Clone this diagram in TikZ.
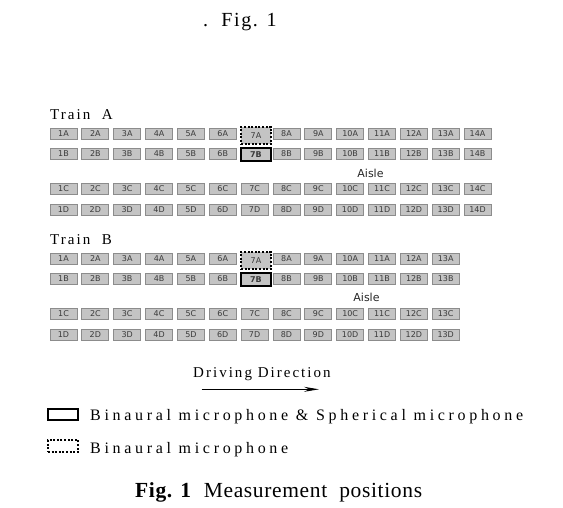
\documentclass[tikz,border=0pt]{standalone}
\usepackage{fontspec}
\setmainfont{Liberation Serif}
\newfontfamily\seatfont{DejaVu Sans}
\newfontfamily\legfont[LetterSpace=23]{Liberation Serif}
\newfontfamily\headfont[LetterSpace=13.5]{Liberation Serif}
\newfontfamily\capfont[LetterSpace=3]{Liberation Serif}
\newfontfamily\titlefont[LetterSpace=8]{Liberation Serif}
\usetikzlibrary{arrows.meta,positioning}
\definecolor{seatfill}{HTML}{C4C4C4}
\definecolor{seatedge}{HTML}{8C8C8C}
\definecolor{seattext}{HTML}{3A3A3A}

\begin{document}
\begin{tikzpicture}[x=1pt, y=-1pt,
      seat/.style={draw=seatedge, fill=seatfill, line width=0.8pt, minimum width=27pt, minimum height=11pt,
                   inner sep=0pt, text=seattext, font=\seatfont\fontsize{8}{8}\selectfont},
      micboth/.style={seat, draw=black, line width=2pt, minimum width=30pt, minimum height=12.5pt,
                      font=\seatfont\bfseries\fontsize{8}{8}\selectfont},
      miconly/.style={seat, draw=black, line width=1.8pt, dash pattern={on 2pt off 1.6pt},
                      minimum width=30pt, minimum height=17pt},
      aisle/.style={font=\seatfont\fontsize{11}{11}\selectfont, text=black!85, inner sep=0pt},
      head/.style={anchor=base west, inner sep=0pt, font=\headfont\fontsize{15}{15}\selectfont},
      leg/.style={anchor=base west, inner sep=0pt, font=\legfont\fontsize{16}{16}\selectfont},
      arr/.style={-{Stealth[length=15pt, width=5pt]}, line width=1pt}]
    \useasboundingbox (0,0) rectangle (563,508);
    \node[anchor=base west, inner sep=0pt, font=\titlefont\fontsize{20}{20}\selectfont] (title) at (203,27) {.\ \ Fig. 1};

    % two trains: name / number of columns / y of row A
    \foreach \t/\n/\y in {A/14/133.5, B/13/258.5} {
      \node[head] (train\t) at (50,\y-13.5) {Train \ \t};
      % rows A and B leave column 7 to the microphone seats
      \foreach \r/\dy/\skip in {A/0/7, B/20.5/7, C/55/0, D/76/0} {
        \foreach \c in {1,...,\n} {
          \ifnum\c=\skip\relax\else
            \node[seat] (\t-\c\r) at ({63.5+(\c-1)*31.85}, \y+\dy) {\c\r};
          \fi
        }
      }
      \node[miconly] (\t-7A) at (256, \y+2) {7A};
      \node[micboth] (\t-7B) at (256, \y+20.8) {7B};
    }
    \node[aisle] (aisleA) at (370.5,173) {Aisle};
    \node[aisle] (aisleB) at (366.5,297) {Aisle};

    % driving direction
    \node[head] (drive) at (193,377) {Driving Direction};
    \coordinate (arrL) at (201.7,389.3);
    \coordinate (arrR) at (319,389.3);
    \draw[arr] (arrL) -- (arrR);

    % legend
    \node[draw, line width=2pt, minimum width=30pt, minimum height=11pt, inner sep=0pt] (keyboth) at (63,414.5) {};
    \node[draw, line width=1.8pt, dash pattern={on 2pt off 1.6pt}, minimum width=30pt, minimum height=12pt, inner sep=0pt] (keyonly) at (63,446) {};
    \node[leg] (txtboth) at (90,420) {Binaural microphone \& Spherical microphone};
    \node[leg] (txtonly) at (90,453) {Binaural microphone};

    \node[anchor=base west, inner sep=0pt, font=\capfont\fontsize{21.5}{21.5}\selectfont] (caption) at (135,497)
      {\textbf{Fig. 1}\ \ Measurement\ \ positions};
\end{tikzpicture}
\end{document}
